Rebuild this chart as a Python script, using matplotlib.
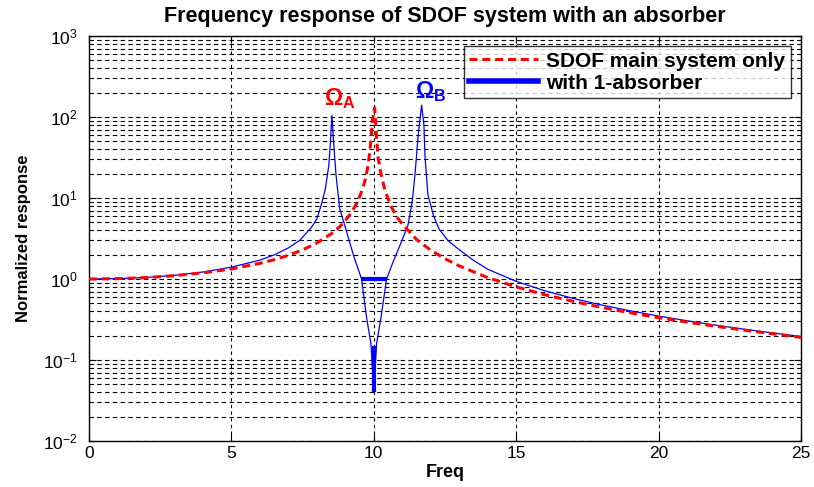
import matplotlib.pyplot as plt
from matplotlib.lines import Line2D
from matplotlib.ticker import FixedLocator, FixedFormatter, LogLocator, NullFormatter

plt.rcParams['font.family'] = ['Liberation Sans', 'DejaVu Sans']
plt.rcParams['mathtext.fontset'] = 'custom'
plt.rcParams['mathtext.rm'] = 'Liberation Sans'
plt.rcParams['mathtext.bf'] = 'Liberation Sans:bold'
plt.rcParams['mathtext.it'] = 'Liberation Sans:italic'

# main system only
freq_sdof = [0, 1, 2, 3, 4, 5, 6, 6.5, 7, 7.5, 8, 8.5, 8.8, 9, 9.2, 9.4, 9.5, 9.6,
             9.7, 9.8, 9.9, 9.95, 10.03, 10.09, 10.15, 10.25, 10.4, 10.6, 10.8, 11,
             11.5, 12, 12.5, 13, 14, 15, 16, 17, 18, 19, 20, 21, 22, 23, 24, 25]
resp_sdof = [1.0, 1.01, 1.04, 1.10, 1.19, 1.33, 1.56, 1.73, 1.96, 2.29, 2.78, 3.6,
             4.4, 5.26, 6.5, 8.6, 10.3, 12.8, 16.8, 25, 50, 90, 130, 62, 32, 20,
             12.2, 8.0, 5.9, 4.76, 3.08, 2.27, 1.78, 1.45, 1.04, 0.80, 0.64, 0.53,
             0.446, 0.383, 0.333, 0.294, 0.261, 0.234, 0.211, 0.19]

# with one absorber (blue curve)
freq_abs = [0, 1, 2, 3, 4, 5, 6, 6.5, 7, 7.4, 7.8, 8.0, 8.17, 8.3, 8.42, 8.48, 8.53,
            8.58, 8.67, 8.8, 9.05, 9.3, 9.57, 9.75, 9.9, 10.0, 10.1, 10.25, 10.45,
            10.7, 10.9, 11.2, 11.35, 11.45, 11.56, 11.68, 11.76, 11.8, 11.9, 12.1,
            12.3, 12.6, 12.9, 13.5, 14, 15, 16, 17, 18, 19, 20, 21, 22, 23, 24, 25]
resp_abs = [1.0, 1.01, 1.046, 1.11, 1.22, 1.40, 1.71, 1.98, 2.42, 3.0, 4.3, 5.5,
            8.5, 13, 25, 50, 105, 55, 20, 7.5, 3.8, 1.9, 1.0, 0.33, 0.16, 0.04,
            0.16, 0.33, 1.0, 1.7, 2.5, 4.6, 9.0, 20, 60, 140, 80, 32, 11, 6.0,
            4.1, 3.0, 2.45, 1.7, 1.32, 0.935, 0.716, 0.576, 0.477, 0.405, 0.349,
            0.305, 0.269, 0.240, 0.216, 0.195]

# thick blue bits near the anti-resonance
bar_x = [9.55, 10.45]
bar_y = [1.0, 1.0]
notch_x = [10.0, 10.0]
notch_y = [0.04, 0.15]

fig = plt.figure(figsize=(8.14, 4.87), dpi=100)
ax = fig.add_axes([0.1093, 0.0945, 0.8747, 0.8315])

ax.semilogy(freq_abs, resp_abs, color='#0000ff', lw=0.9, zorder=3)
ax.semilogy(freq_sdof, resp_sdof, color='#ff0000', lw=2.2, dashes=(2.6, 1.6), zorder=4)
ax.plot(bar_x, bar_y, color='#0000ff', lw=3, solid_capstyle='butt', zorder=5)
ax.plot(notch_x, notch_y, color='#0000ff', lw=3, solid_capstyle='butt', zorder=5)

ax.set_xlim(0, 25)
ax.set_ylim(1e-2, 1e3)
ax.xaxis.set_major_locator(FixedLocator([0, 5, 10, 15, 20, 25]))
ax.yaxis.set_major_locator(FixedLocator([1e-2, 1e-1, 1, 10, 100, 1000]))
ax.yaxis.set_major_formatter(FixedFormatter([r'$10^{-2}$', r'$10^{-1}$', r'$10^{0}$',
                                             r'$10^{1}$', r'$10^{2}$', r'$10^{3}$']))
ax.yaxis.set_minor_locator(LogLocator(base=10, subs=range(2, 10)))
ax.yaxis.set_minor_formatter(NullFormatter())

ax.grid(True, which='major', axis='x', color='black', ls=(0, (3, 3)), lw=0.8)
ax.grid(True, which='both', axis='y', color='black', ls=(0, (4, 3)), lw=0.8)
ax.tick_params(which='both', direction='in', top=True, right=True, labelsize=12.5)
ax.tick_params(which='major', length=5)
ax.tick_params(axis='y', which='major', pad=8)
ax.tick_params(which='minor', length=3)
for s in ax.spines.values():
    s.set_linewidth(1.0)

ax.set_title('Frequency response of SDOF system with an absorber',
             fontsize=15.5, fontweight='bold', pad=10)
ax.set_xlabel('Freq', fontsize=13, fontweight='bold', labelpad=2)
ax.set_ylabel('Normalized response', fontsize=12, fontweight='bold', labelpad=9)

ax.text(8.25, 140, r'$\mathbf{\Omega_A}$', color='#ff0000', fontsize=16.5)
ax.text(11.45, 170, r'$\mathbf{\Omega_B}$', color='#0000ff', fontsize=16.5)

handles = [Line2D([], [], color='#ff0000', lw=2.2, dashes=(2.6, 1.6)),
           Line2D([], [], color='#0000ff', lw=4)]
leg = ax.legend(handles, ['SDOF main system only', 'with 1-absorber'],
                loc='upper right', fontsize=15, frameon=True, fancybox=False,
                edgecolor='black', handlelength=3.3, handletextpad=0.4,
                borderpad=0.25, labelspacing=0.15, borderaxespad=0.5)
leg.get_frame().set_linewidth(1.0)
for t in leg.get_texts():
    t.set_fontweight('bold')

fig.savefig('out.png', dpi=100)
